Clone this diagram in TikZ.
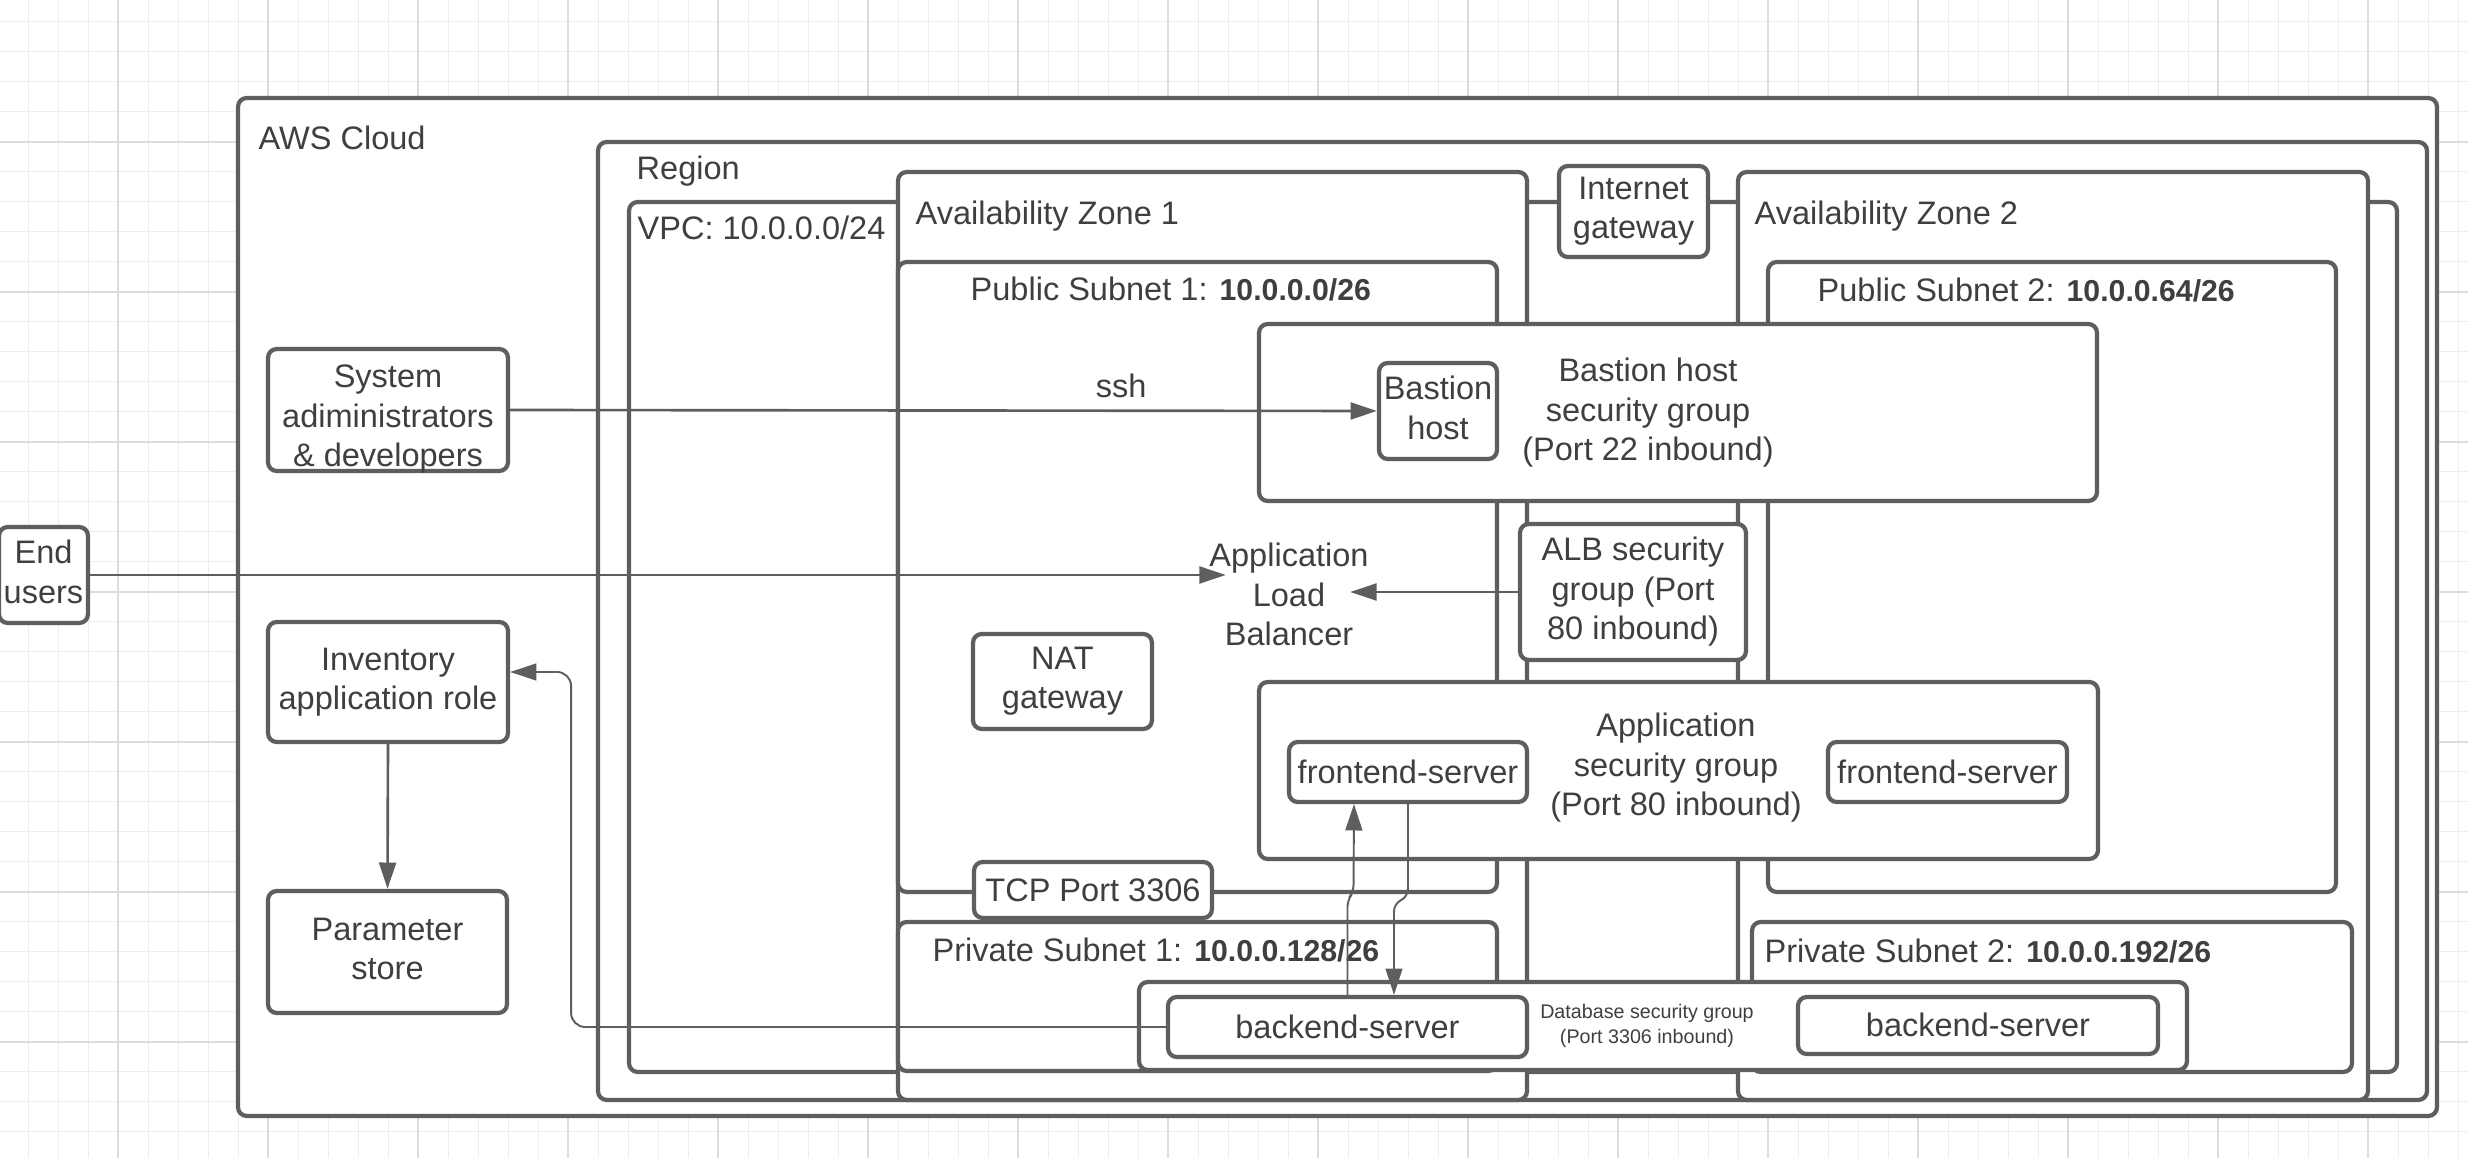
\documentclass[tikz,border=0pt]{standalone}
\usepackage{fontspec}
\setmainfont{Liberation Sans}
\usetikzlibrary{arrows.meta,positioning,calc}
\definecolor{linegray}{HTML}{5E5E5E}
\definecolor{textgray}{HTML}{3F3F3F}
\definecolor{gridminor}{HTML}{EDEDED}
\definecolor{gridmajor}{HTML}{DCDCDC}
\newcommand{\ipaddr}[1]{{\fontsize{8.6}{10}\selectfont\bfseries #1}}
\newcommand{\lucidstrut}{\rule[-0.212em]{0pt}{1.117em}}

\begin{document}
\begin{tikzpicture}[x=0.01cm, y=-0.01cm,
  every node/.style={text=textgray, font=\fontsize{9.25}{11.2}\selectfont, align=center,
    execute at begin node=\lucidstrut, execute at end node=\lucidstrut},
  corners/.style n args={4}{at={({(#1+#3)/2},{(#2+#4)/2})},
    minimum width={(#3-#1)*0.01cm}, minimum height={(#4-#2)*0.01cm}},
  frame/.style={draw=linegray, line width=1.2pt, rounded corners=2.5pt, fill=white, inner sep=0pt},
  box/.style={frame},
  title/.style={anchor=base west, inner sep=0pt},
  link/.style={draw=linegray, line width=0.75pt, -{Triangle[length=7.5pt,width=4.8pt]}},
  thinlink/.style={link, line width=0.55pt}]
\useasboundingbox (0,0) rectangle (2468,1158);
\fill[white] (0,0) rectangle (2468,1158);
%Grid
\foreach \gx in {0,...,81} \draw[gridminor, line width=0.4pt] ({28.3+30*\gx},0) -- ++(0,1158);
\foreach \gy in {0,...,37} \draw[gridminor, line width=0.4pt] (0,{21.7+30*\gy}) -- ++(2468,0);
\foreach \gx in {0,...,15} \draw[gridmajor, line width=0.5pt] ({118.3+150*\gx},0) -- ++(0,1158);
\foreach \gy in {0,...,6} \draw[gridmajor, line width=0.5pt] (0,{141.7+150*\gy}) -- ++(2468,0);

%Cloud, region, VPC
\node[frame, corners={238}{98}{2437}{1116}] (aws) {};
\node[title] at (258,149.5) {AWS Cloud};
\node[frame, corners={598}{142}{2427}{1100}] (region) {};
\node[title] at (636,180) {Region};
\node[frame, corners={629}{202}{2397}{1072}] (vpc) {};
\node[title] at (637,240) {VPC: 10.0.0.0/24};

%Availability zones
\node[frame, corners={898}{172}{1527}{1100}] (az1) {};
\node[title] at (915,225) {Availability Zone 1};
\node[frame, corners={1738}{172}{2368}{1100}] (az2) {};
\node[title] at (1754,225) {Availability Zone 2};
\node[box, corners={1559}{166}{1708}{257}] (igw) {Internet\\gateway};

%Subnets
\node[frame, corners={898}{262}{1497}{892}] (pub1) {};
\node[title] at (970,300.5) {Public Subnet 1: \ipaddr{10.0.0.0/26}};
\node[frame, corners={1768}{262}{2336}{892}] (pub2) {};
\node[title] at (1817,301.5) {Public Subnet 2: \ipaddr{10.0.0.64/26}};
\node[frame, corners={898}{922}{1497}{1071}] (priv1) {};
\node[title] at (932,961.5) {Private Subnet 1: \ipaddr{10.0.0.128/26}};
\node[frame, corners={1752}{922}{2352}{1072}] (priv2) {};
\node[title] at (1764,962) {Private Subnet 2: \ipaddr{10.0.0.192/26}};
\node[box, corners={974}{862}{1212}{918}] (tcp) {TCP Port 3306};

%Security groups and servers
\node[frame, corners={1259}{324}{2097}{501}] (bastionsg) {};
\node at (1648,413) {Bastion host\\security group\\(Port 22 inbound)};
\node[box, corners={1379}{363}{1497}{459}] (bastion) {Bastion\\host};
\node[box, corners={1520}{524}{1746}{660}] (albsg) {ALB security\\group (Port\\80 inbound)};
\node[inner sep=0pt] (alb) at (1289,598) {Application\\Load\\Balancer};
\node[box, corners={973}{634}{1152}{729}] (nat) {NAT\\gateway};
\node[frame, corners={1259}{682}{2098}{859}] (appsg) {};
\node at (1676,768) {Application\\security group\\(Port 80 inbound)};
\node[box, corners={1289}{742}{1527}{802}] (fe1) {frontend-server};
\node[box, corners={1828}{742}{2067}{802}] (fe2) {frontend-server};
\node[frame, corners={1139}{982}{2187}{1070}] (dbsg) {};
\node[font=\fontsize{5.6}{6.9}\selectfont] at (1647,1026) {Database security group\\(Port 3306 inbound)};
\node[box, corners={1168}{997}{1527}{1057}] (be1) {backend-server};
\node[box, corners={1798}{997}{2158}{1054}] (be2) {backend-server};

%Outside the VPC
\node[box, inner ysep=-1.5pt, corners={268}{349}{508}{471}] (admins) {\rule{0pt}{\dimexpr0.905em+3.4pt\relax}System\\adiministrators\\\& developers};
\node[box, corners={268}{622}{508}{742}] (role) {Inventory\\application role};
\node[box, corners={268}{891}{507}{1013}] (store) {Parameter\\store};
\node[box, corners={-1}{527}{88}{623}] (users) {End\\users};

%Connectors
\draw[link] (admins.east) -- node[pos=0.705, anchor=base, yshift=3.7pt, inner sep=0pt] {ssh} (bastion.west);
\draw[link] (users.east) -- ($(users.east -| alb.west)+(17,0)$);
\draw[link] (albsg.west) -- ($(albsg.west -| alb.east)+(-19,0)$);
\draw[link] (role.south) -- (store.north);
\draw[thinlink, rounded corners=4pt] (be1.west) -| ($(role.east)+(61,-10)$) -- ($(role.east)+(0,-10)$);
\draw[thinlink, rounded corners=2pt] (be1.north) -- ++(0,-95) -- ++(6,-8) -- ($(fe1.south)+(-54,0)$);
\draw[thinlink, rounded corners=2pt] (fe1.south) -- ++(0,92) -- ++(-14,8) -- ($(be1.north)+(46.5,0)$);
\end{tikzpicture}
\end{document}
